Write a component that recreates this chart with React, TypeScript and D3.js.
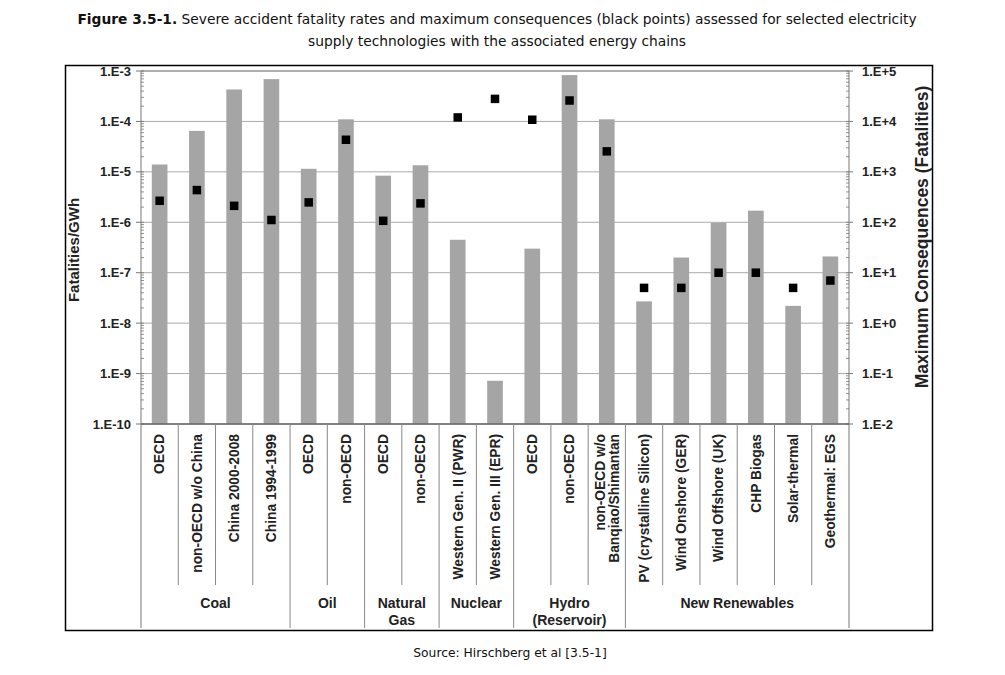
import * as d3 from 'd3';

// categories (x axis), one entry per bar; a nested array means a two-line label
const categories: string[][] = [
  ['OECD'],
  ['non-OECD w/o China'],
  ['China 2000-2008'],
  ['China 1994-1999'],
  ['OECD'],
  ['non-OECD'],
  ['OECD'],
  ['non-OECD'],
  ['Western Gen. II (PWR)'],
  ['Western Gen. III (EPR)'],
  ['OECD'],
  ['non-OECD'],
  ['non-OECD w/o', 'Banqiao/Shimantan'],
  ['PV (crystalline Silicon)'],
  ['Wind Onshore (GER)'],
  ['Wind Offshore (UK)'],
  ['CHP Biogas'],
  ['Solar-thermal'],
  ['Geothermal: EGS'],
];

const groupNames: string[][] = [['Coal'], ['Oil'], ['Natural', 'Gas'], ['Nuclear'], ['Hydro', '(Reservoir)'], ['New Renewables']];
const groupSizes = [4, 2, 2, 2, 3, 6];

// grey bars, left axis (fatalities / GWh)
const fatalityRates = [
  1.4e-5, 6.5e-5, 4.3e-4, 6.9e-4, 1.15e-5, 1.1e-4, 8.4e-6, 1.35e-5, 4.5e-7, 7.2e-10, 3.0e-7, 8.3e-4, 1.1e-4, 2.7e-8,
  2.0e-7, 9.8e-7, 1.7e-6, 2.2e-8, 2.1e-7,
];

// black points, right axis (fatalities)
const maxConsequences = [267, 435, 212, 111, 248, 4330, 107, 237, 12000, 28000, 10800, 26000, 2550, 5, 5, 10, 10, 5, 7];

const leftTicks = [1e-3, 1e-4, 1e-5, 1e-6, 1e-7, 1e-8, 1e-9, 1e-10];
const leftTickLabels = ['1.E-3', '1.E-4', '1.E-5', '1.E-6', '1.E-7', '1.E-8', '1.E-9', '1.E-10'];
const rightTicks = [1e5, 1e4, 1e3, 1e2, 1e1, 1e0, 1e-1, 1e-2];
const rightTickLabels = ['1.E+5', '1.E+4', '1.E+3', '1.E+2', '1.E+1', '1.E+0', '1.E-1', '1.E-2'];

const W = 1005;
const H = 675;
const plot = { left: 141, right: 849, top: 71, bottom: 424 };
const font = "'Liberation Sans', Arial, sans-serif";
const titleFont = "'DejaVu Sans', Verdana, sans-serif";

export default function App() {
  const x = d3
    .scaleBand<number>()
    .domain(categories.map((_, i) => i))
    .range([plot.left, plot.right]);
  const y = d3.scaleLog().domain([1e-10, 1e-3]).range([plot.bottom, plot.top]);
  const y2 = d3.scaleLog().domain([1e-2, 1e5]).range([plot.bottom, plot.top]);

  const bw = x.bandwidth();
  const barW = bw * 0.42;
  const sq = 8.5;

  const minorLeft = y.ticks();
  const minorRight = y2.ticks();

  // group boundaries (index of first category in each group)
  const starts: number[] = [];
  groupSizes.reduce((acc, n) => {
    starts.push(acc);
    return acc + n;
  }, 0);

  const innerBottom = 585;
  const groupBottom = 628;

  return (
    <svg width={W} height={H} style={{ position: 'absolute', left: 0, top: 0, background: '#fff' }}>
      {/* title */}
      <text x={497} y={24} textAnchor="middle" fontFamily={titleFont} fontSize={13.8} fill="#111">
        <tspan fontWeight="bold">Figure 3.5-1.</tspan>
        <tspan> Severe accident fatality rates and maximum consequences (black points) assessed for selected electricity</tspan>
      </text>
      <text x={497} y={46} textAnchor="middle" fontFamily={titleFont} fontSize={13.8} fill="#111">
        supply technologies with the associated energy chains
      </text>

      {/* frame */}
      <rect x={65.5} y={65.5} width={867} height={565} fill="none" stroke="#000" strokeWidth={1.5} />

      {/* gridlines */}
      {leftTicks.map((t) => (
        <line key={'g' + t} x1={plot.left} x2={plot.right} y1={y(t)} y2={y(t)} stroke="#aaa" strokeWidth={1} />
      ))}
      <line x1={plot.left} x2={plot.right} y1={plot.top} y2={plot.top} stroke="#888" strokeWidth={1.2} />

      {/* bars */}
      {fatalityRates.map((v, i) => (
        <rect
          key={'b' + i}
          x={x(i)! + (bw - barW) / 2}
          width={barW}
          y={y(v)}
          height={plot.bottom - y(v)}
          fill="#a5a5a5"
        />
      ))}

      {/* points */}
      {maxConsequences.map((v, i) => (
        <rect
          key={'p' + i}
          x={x(i)! + bw / 2 - sq / 2}
          y={y2(v) - sq / 2}
          width={sq}
          height={sq}
          fill="#000"
        />
      ))}

      {/* left axis */}
      <line x1={plot.left} x2={plot.left} y1={plot.top} y2={groupBottom} stroke="#777" strokeWidth={1} />
      {minorLeft.map((t, i) => (
        <line key={'ml' + i} x1={plot.left} x2={plot.left + 3} y1={y(t)} y2={y(t)} stroke="#777" strokeWidth={0.8} />
      ))}
      {leftTicks.map((t, i) => (
        <g key={'lt' + i}>
          <line x1={plot.left - 5} x2={plot.left} y1={y(t)} y2={y(t)} stroke="#777" />
          <text
            x={131}
            y={y(t)}
            dy="0.35em"
            textAnchor="end"
            fontFamily={font}
            fontWeight="bold"
            fontSize={13}
            fill="#222"
          >
            {leftTickLabels[i]}
          </text>
        </g>
      ))}

      {/* right axis */}
      <line x1={plot.right} x2={plot.right} y1={plot.top} y2={groupBottom} stroke="#777" strokeWidth={1} />
      {minorRight.map((t, i) => (
        <line key={'mr' + i} x1={plot.right - 3} x2={plot.right} y1={y2(t)} y2={y2(t)} stroke="#777" strokeWidth={0.8} />
      ))}
      {rightTicks.map((t, i) => (
        <g key={'rt' + i}>
          <line x1={plot.right} x2={plot.right + 4} y1={y2(t)} y2={y2(t)} stroke="#777" />
          <text
            x={862}
            y={y2(t)}
            dy="0.35em"
            textAnchor="start"
            fontFamily={font}
            fontWeight="bold"
            fontSize={13}
            fill="#222"
          >
            {rightTickLabels[i]}
          </text>
        </g>
      ))}

      {/* bottom axis line */}
      <line x1={plot.left} x2={plot.right} y1={plot.bottom} y2={plot.bottom} stroke="#666" strokeWidth={1.3} />

      {/* category separators */}
      {categories.map((_, i) =>
        i === 0 ? null : (
          <line
            key={'s' + i}
            x1={x(i)!}
            x2={x(i)!}
            y1={plot.bottom}
            y2={starts.includes(i) ? groupBottom : innerBottom}
            stroke="#888"
            strokeWidth={1}
          />
        )
      )}

      {/* category labels */}
      {categories.map((lines, i) => {
        const cx = x(i)! + bw / 2;
        const offs = lines.length === 1 ? [0] : [-6.8, 7];
        return lines.map((s, j) => (
          <text
            key={'c' + i + '-' + j}
            transform={`translate(${cx + offs[j] + 4.8},434) rotate(-90)`}
            textAnchor="end"
            fontFamily={font}
            fontWeight="bold"
            fontSize={13.8}
            fill="#222"
          >
            {s}
          </text>
        ));
      })}

      {/* group labels */}
      {groupNames.map((lines, g) => {
        const first = starts[g];
        const last = first + groupSizes[g] - 1;
        const cx = (x(first)! + x(last)! + bw) / 2;
        return lines.map((s, j) => (
          <text
            key={'gr' + g + '-' + j}
            x={cx}
            y={608 + j * 17}
            textAnchor="middle"
            fontFamily={font}
            fontWeight="bold"
            fontSize={14}
            fill="#222"
          >
            {s}
          </text>
        ));
      })}

      {/* axis titles */}
      <text
        transform={`translate(79,250) rotate(-90)`}
        textAnchor="middle"
        fontFamily={font}
        fontWeight="bold"
        fontSize={15}
        fill="#222"
      >
        Fatalities/GWh
      </text>
      <text
        transform={`translate(928,237) rotate(-90)`}
        textAnchor="middle"
        fontFamily={font}
        fontWeight="bold"
        fontSize={17.5}
        fill="#222"
      >
        Maximum Consequences (Fatalities)
      </text>

      {/* source */}
      <text x={510} y={657} textAnchor="middle" fontFamily={titleFont} fontSize={12.3} fill="#111">
        Source: Hirschberg et al [3.5-1]
      </text>
    </svg>
  );
}
